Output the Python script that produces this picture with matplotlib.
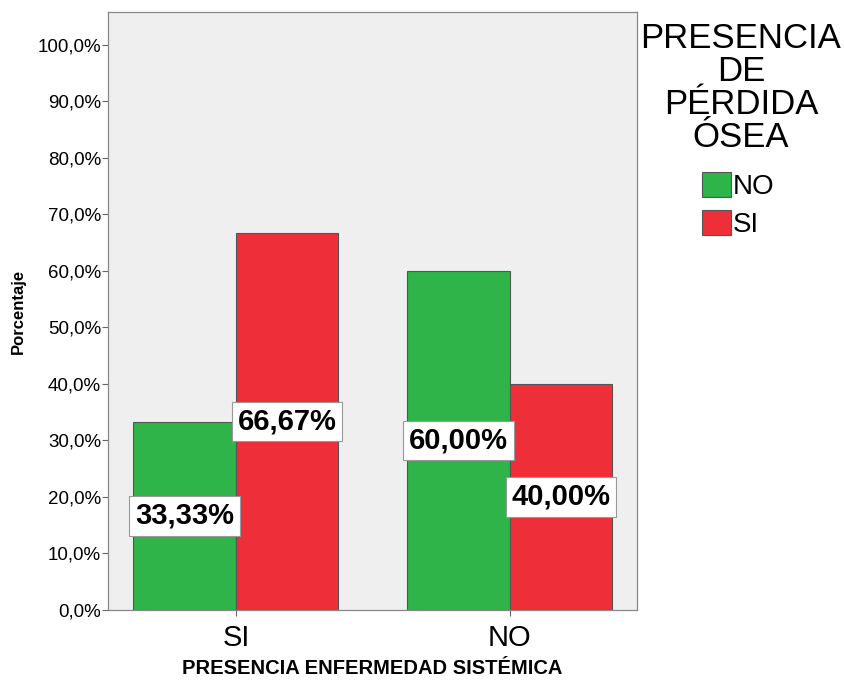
import numpy as np
import matplotlib
matplotlib.use('Agg')
import matplotlib.pyplot as plt
from matplotlib.ticker import FuncFormatter

plt.rcParams['font.family'] = ['Liberation Sans', 'DejaVu Sans']

# Data
categories = ['SI', 'NO']            # PRESENCIA ENFERMEDAD SISTÉMICA
perdida_no = [33.33, 60.00]          # pérdida ósea = NO
perdida_si = [66.67, 40.00]          # pérdida ósea = SI
series_names = ['NO', 'SI']

green = '#2fb44a'
red = '#ee2f39'

fig = plt.figure(figsize=(8.45, 6.83), dpi=100)
ax = fig.add_axes([108 / 845, 1 - 610 / 683, (637 - 108) / 845, (610 - 12) / 683])
ax.set_facecolor('#efefef')

x = np.arange(len(categories))
w = 0.374
b1 = ax.bar(x - w / 2, perdida_no, w, color=green, edgecolor='#555555', linewidth=0.8, label=series_names[0])
b2 = ax.bar(x + w / 2, perdida_si, w, color=red, edgecolor='#555555', linewidth=0.8, label=series_names[1])

# value labels, centred in each bar
for bars, vals in [(b1, perdida_no), (b2, perdida_si)]:
    for rect, v in zip(bars, vals):
        ax.text(rect.get_x() + rect.get_width() / 2, v / 2,
                f'{v:.2f}%'.replace('.', ','),
                ha='center', va='center', fontsize=21, fontweight='bold',
                bbox=dict(boxstyle='square,pad=0.2', facecolor='white', edgecolor='#999999', linewidth=0.8))

ax.set_xlim(-0.467, 1.464)
ax.set_ylim(0, 105.8)
ax.set_yticks(np.arange(0, 101, 10))
ax.yaxis.set_major_formatter(FuncFormatter(lambda v, p: f'{v:.1f}%'.replace('.', ',')))
ax.tick_params(axis='y', labelsize=13.5, length=4, color='#666666', pad=1)
ax.set_xticks(x)
ax.set_xticklabels(categories, fontsize=21)
ax.tick_params(axis='x', length=4, color='#666666', pad=6)
for s in ax.spines.values():
    s.set_color('#888888')
    s.set_linewidth(0.9)

ax.set_ylabel('Porcentaje', fontsize=12, fontweight='bold', labelpad=8)
ax.set_xlabel('PRESENCIA ENFERMEDAD SISTÉMICA', fontsize=14.5, fontweight='bold', labelpad=5)

# legend title and entries
fig.text(741 / 845, 1 - 22 / 683, 'PRESENCIA\nDE\nPÉRDIDA\nÓSEA', ha='center', va='top',
         fontsize=25, linespacing=1.0)
fig.legend(handles=[b1, b2], labels=series_names, loc='upper left',
           bbox_to_anchor=(702 / 845, 1 - 172 / 683), frameon=False, fontsize=20,
           handlelength=1.05, handleheight=1.0, handletextpad=0.05, labelspacing=0.35,
           borderpad=0, borderaxespad=0)

fig.savefig('out.png', dpi=100)
